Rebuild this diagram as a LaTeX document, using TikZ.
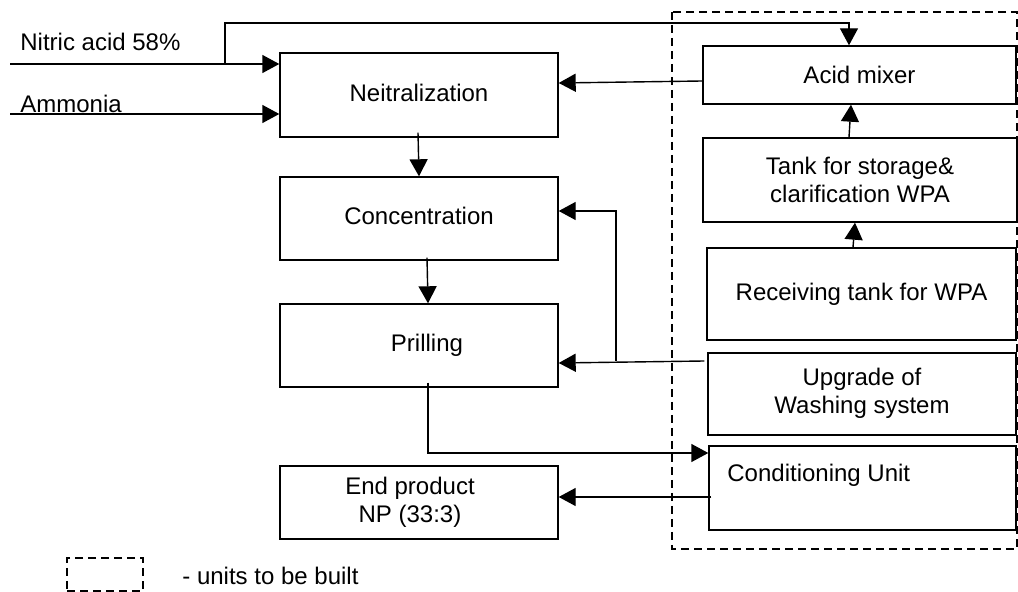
\documentclass[tikz,border=0pt]{standalone}
\usepackage{fontspec}
\setmainfont{Liberation Sans}
\usetikzlibrary{arrows.meta}
\begin{document}
\begin{tikzpicture}[x=0.5pt,y=-0.5pt,
  every node/.style={font=\fontsize{12}{14}\selectfont},
  box/.style={draw,line width=0.7pt,inner sep=0pt,align=center},
  arr/.style={line width=0.7pt,-{Triangle[length=8.5pt,width=9pt]}},
  dbox/.style={draw,line width=0.7pt,dash pattern=on 4pt off 2.5pt}]
\useasboundingbox (0,0) rectangle (1018,592);
% left column
\node[box,minimum width=139pt,minimum height=42pt] (neut) at (419,95) {\raisebox{2pt}{Neitralization}};
\node[box,minimum width=139pt,minimum height=41.5pt] (conc) at (419,218.5) {\raisebox{2.5pt}{Concentration}};
\node[box,minimum width=139pt,minimum height=41.5pt] (prill) at (419,345.5) {\hspace*{8pt}Prilling};
\node[box,minimum width=139pt,minimum height=36.5pt] (endp) at (419,502.5) {\raisebox{-1.5pt}{\begin{tabular}{@{}c@{}}End product\\NP (33:3)\end{tabular}}\hspace*{9pt}};
% right column
\node[box,minimum width=156.5pt,minimum height=29pt] (mixer) at (859.5,75) {Acid mixer};
\node[box,minimum width=157pt,minimum height=42pt] (tank) at (860,180) {Tank for storage\&\\clarification WPA};
\node[box,minimum width=154.5pt,minimum height=46pt] (recv) at (861.5,294) {\raisebox{2pt}{Receiving tank for WPA}};
\node[box,minimum width=154pt,minimum height=41pt] (upg) at (862,394) {\raisebox{-1pt}{\begin{tabular}{@{}c@{}}Upgrade of\\Washing system\end{tabular}}};
\node[box,minimum width=153.5pt,minimum height=42pt] (cond) at (862.5,488) {};
\node[anchor=base west,inner sep=0pt] (condtxt) at (727,482) {Conditioning Unit};
% dashed region
\draw[dbox] (672,12) rectangle (1017,549);
% inputs
\coordinate (nitin) at (10,64);
\coordinate (amin) at (10,114);
\node[anchor=base west,inner sep=0pt] (nitlbl) at (20,51) {Nitric acid 58\%};
\node[anchor=base west,inner sep=0pt] (amlbl) at (20,113) {Ammonia};
\draw[arr] (nitin) -- (nitin -| neut.west);
\draw[arr] (amin) -- (amin -| neut.west);
\coordinate (br) at (225,64);
\coordinate (top) at (849,23);
\draw[arr] (br) |- (top) -- (top |- mixer.north);
% right column flow
\draw[arr] ([xshift=-4.25pt]recv.north) -- ([xshift=-2.5pt]tank.south);
\draw[arr] ([xshift=-5.5pt]tank.north) -- ([xshift=-4.25pt]mixer.south);
\draw[arr] ([yshift=-3pt]mixer.west) -- ([yshift=6pt]neut.east);
% left column flow
\draw[arr] ([xshift=-0.5pt,yshift=2.5pt]neut.south) -- (conc.north);
\draw[arr] ([xshift=4pt,yshift=1.5pt]conc.south) -- ([xshift=4.5pt]prill.north);
% washing system
\draw[arr] ([xshift=-1.5pt,yshift=16.5pt]upg.west) -- ([yshift=-8.75pt]prill.east);
\coordinate (j) at (616,361);
\draw[arr] (j) |- ([yshift=3.75pt]conc.east);
% prilling to conditioning
\draw[arr] ([xshift=4.5pt,yshift=2.5pt]prill.south) |- ([yshift=17.5pt]cond.west);
\draw[arr] ([xshift=1.5pt,yshift=-4.5pt]cond.west) coordinate (c1) -- (c1 -| endp.east);
% legend
\node[dbox,minimum width=38pt,minimum height=16.5pt,inner sep=0pt] (legend) at (105,574.5) {};
\node[anchor=west,inner sep=0pt] (legtxt) at (182,576) {- units to be built};
\end{tikzpicture}
\end{document}
